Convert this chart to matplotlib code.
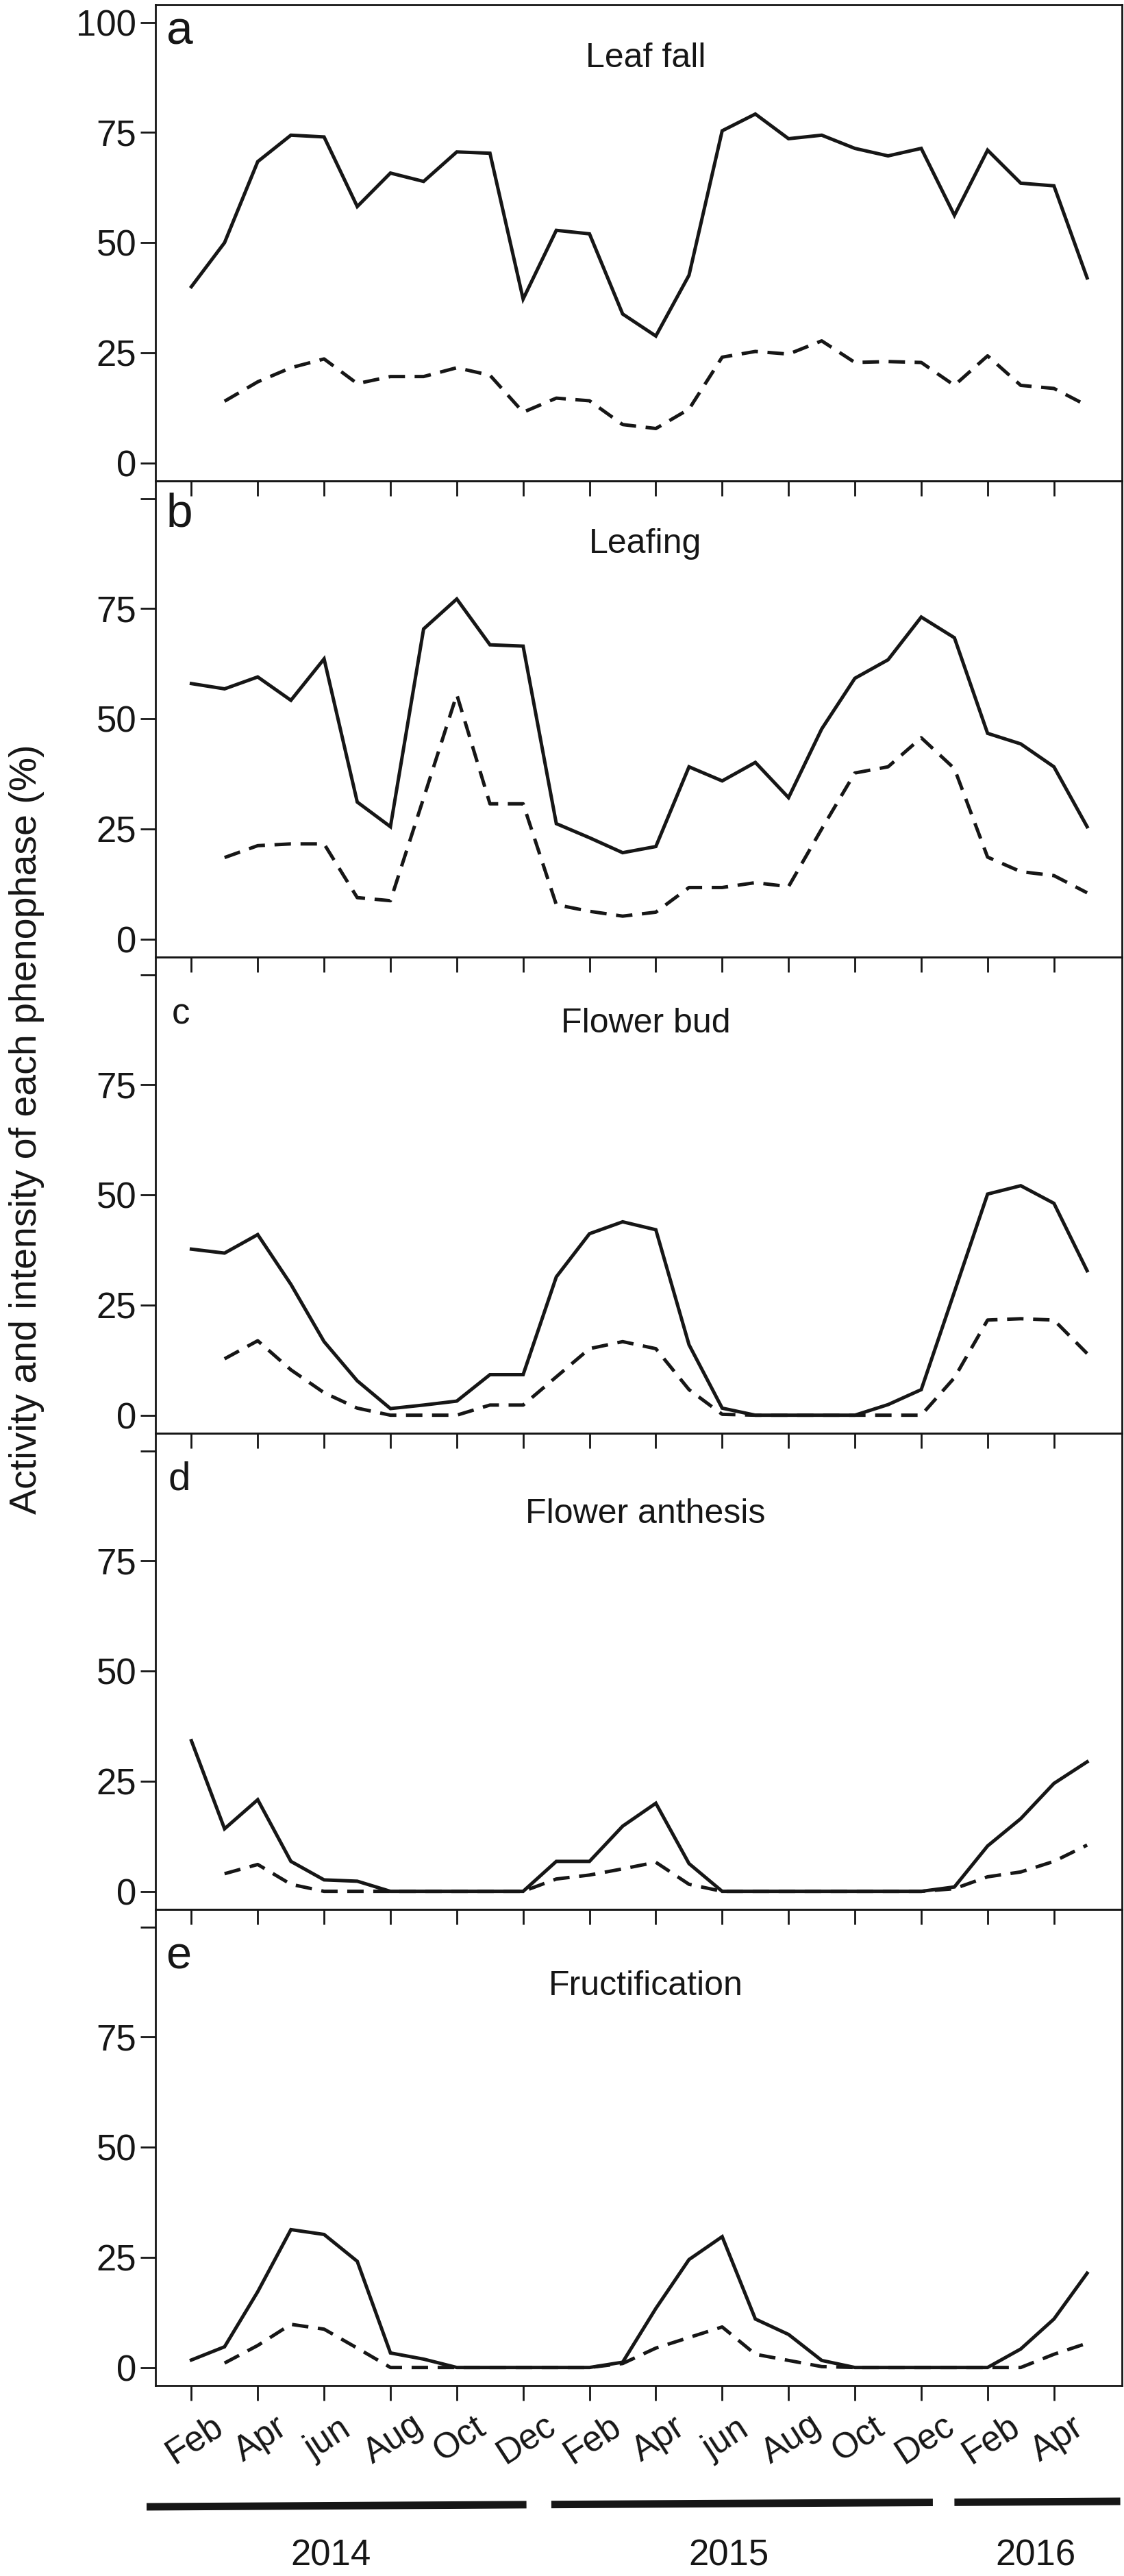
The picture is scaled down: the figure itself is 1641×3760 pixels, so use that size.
import numpy as np
import matplotlib
matplotlib.use("Agg")
import matplotlib.pyplot as plt
from matplotlib.transforms import ScaledTranslation, blended_transform_factory

plt.rcParams['font.family'] = ['Liberation Sans', 'DejaVu Sans']

# --- DATA (monthly, Feb 2014 .. May 2016; dashed series starts Mar 2014) ---
months_solid = np.arange(0, 28)      # 0 = Feb 2014
months_dashed = np.arange(1, 28)     # 1 = Mar 2014

tick_months = np.arange(0, 27, 2)
tick_labels = ["Feb", "Apr", "jun", "Aug", "Oct", "Dec",
               "Feb", "Apr", "jun", "Aug", "Oct", "Dec",
               "Feb", "Apr"]

panel_letters = ["a", "b", "c", "d", "e"]
panel_titles = ["Leaf fall", "Leafing", "Flower bud", "Flower anthesis", "Fructification"]

leaf_fall_activity = [40.0, 50.0, 68.4, 74.4, 74.0, 58.2, 65.8, 63.9, 70.6, 70.3, 37.2,
                      52.8, 52.0, 33.8, 28.8, 42.6, 75.4, 79.2, 73.6, 74.4, 71.4, 69.7, 71.4,
                      56.2, 71.0, 63.5, 62.9, 42.0]
leaf_fall_intensity = [14.0, 18.4, 21.6, 23.6, 18.0, 19.6, 19.6, 21.6, 19.9, 11.5,
                       14.7, 14.1, 8.7, 7.8, 12.2, 24.0, 25.3, 24.7, 27.7, 22.8, 23.0, 22.8,
                       17.6, 24.3, 17.6, 16.9, 13.0]

leafing_activity = [58.0, 56.8, 59.5, 54.2, 63.6, 31.1, 25.5, 70.4, 77.2, 66.8, 66.5,
                    26.2, 23.0, 19.6, 21.0, 39.1, 35.9, 40.1, 32.1, 47.7, 59.2, 63.4, 73.1,
                    68.4, 46.7, 44.3, 39.1, 25.5]
leafing_intensity = [18.5, 21.2, 21.6, 21.6, 9.4, 8.7, 32.0, 55.5, 30.7, 30.7,
                     7.8, 6.3, 5.2, 6.1, 11.7, 11.7, 12.8, 11.9, 25.0, 37.7, 39.1, 45.7,
                     38.7, 18.6, 15.3, 14.4, 10.5]

bud_activity = [37.7, 36.8, 41.0, 29.7, 16.7, 7.8, 1.5, 2.3, 3.2, 9.2, 9.2,
                31.4, 41.2, 43.9, 42.1, 16.0, 1.6, 0, 0, 0, 0, 2.4, 5.8,
                28.0, 50.2, 52.1, 48.1, 32.8]
bud_intensity = [12.8, 16.9, 10.3, 5.1, 1.6, 0, 0, 0, 2.3, 2.3,
                 8.7, 15.1, 16.7, 15.1, 5.8, 0.2, 0, 0, 0, 0, 0, 0,
                 8.5, 21.6, 21.9, 21.6, 14.0]

anthesis_activity = [34.2, 14.2, 20.8, 6.8, 2.6, 2.3, 0, 0, 0, 0, 0,
                     6.8, 6.8, 14.8, 20.0, 6.3, 0, 0, 0, 0, 0, 0, 0,
                     1.0, 10.3, 16.5, 24.5, 29.4]
anthesis_intensity = [4.0, 6.1, 1.6, 0, 0, 0, 0, 0, 0, 0,
                      2.8, 3.7, 5.1, 6.6, 1.6, 0, 0, 0, 0, 0, 0, 0,
                      0.6, 3.3, 4.4, 6.8, 10.5]

fruit_activity = [1.7, 4.7, 17.2, 31.3, 30.2, 24.1, 3.3, 1.9, 0, 0, 0,
                  0, 0, 1.2, 13.4, 24.5, 29.7, 11.0, 7.5, 1.6, 0, 0, 0,
                  0, 0, 4.2, 11.0, 21.4]
fruit_intensity = [1.0, 5.0, 9.8, 8.7, 4.4, 0, 0, 0, 0, 0,
                   0, 0, 0.9, 4.4, 6.8, 9.2, 3.0, 1.6, 0.2, 0, 0, 0,
                   0, 0, 0, 3.0, 5.5]

activity = [leaf_fall_activity, leafing_activity, bud_activity, anthesis_activity, fruit_activity]
intensity = [leaf_fall_intensity, leafing_intensity, bud_intensity, anthesis_intensity, fruit_intensity]

years = ["2014", "2015", "2016"]
year_spans = [(-1.35, 10.1), (10.85, 22.35), (23.0, 28.0)]
year_label_x = [4.2, 16.2, 25.45]

# --- LAYOUT ---
W, H = 1641, 3760
fig = plt.figure(figsize=(W / 100, H / 100), dpi=100)

left_px, right_px = 227, 1638
top_px, panel_h = 7, 695

letter_sizes = [50, 50, 38, 42, 48]
letter_pos = [(0.011, 0.917), (0.011, 0.905), (0.017, 0.859), (0.013, 0.881), (0.011, 0.875)]
title_y = [0.869, 0.849, 0.842, 0.812, 0.820]

ink = "#161616"
axes = []
for i in range(5):
    bottom = 1 - (top_px + panel_h * (i + 1)) / H
    ax = fig.add_axes([left_px / W, bottom, (right_px - left_px) / W, panel_h / H])
    ax.patch.set_visible(False)
    axes.append(ax)

    ax.plot(months_dashed, intensity[i], color=ink, lw=3.6, dashes=(4.8, 2.8))
    ax.plot(months_solid, activity[i], color=ink, lw=3.6, solid_joinstyle="miter")

    ax.set_xlim(-1.082, 28.05)
    ax.set_ylim(-4.1, 104.0)
    ax.set_yticks([0, 25, 50, 75, 100])
    if i == 0:
        ax.set_yticklabels(["0", "25", "50", "75", "100"])
    else:
        ax.set_yticklabels(["0", "25", "50", "75", ""])
    ax.set_xticks(tick_months)

    for sp in ax.spines.values():
        sp.set_linewidth(2.0)
        sp.set_color(ink)
    ax.tick_params(axis="both", direction="out", length=15.8, width=2.0,
                   color=ink, labelsize=38, labelcolor=ink)
    ax.tick_params(axis="y", pad=4.3)

    ax.text(letter_pos[i][0], letter_pos[i][1], panel_letters[i], transform=ax.transAxes,
            fontsize=letter_sizes[i], ha="left", va="baseline", color=ink)
    ax.text(0.507, title_y[i], panel_titles[i], transform=ax.transAxes,
            fontsize=36, ha="center", va="baseline", color=ink)

    if i < 4:
        ax.set_xticklabels([])

ax = axes[-1]
ax.tick_params(axis="x", pad=41)
ax.set_xticklabels(tick_labels, rotation=33, ha="center", va="center",
                   rotation_mode="anchor", fontsize=37)
shift = ScaledTranslation(0.05, 0, fig.dpi_scale_trans)
for lab in ax.get_xticklabels():
    lab.set_transform(lab.get_transform() + shift)

# year bars below the month axis (slightly slanted, as in the scan)
trans = blended_transform_factory(ax.transData, ax.transAxes)
def bar_y(xd):
    xpx = 279.4 + 48.43 * xd
    ypx = 3659 - (xpx - 214) * 8 / 1421
    return (3482 - ypx) / panel_h

for (x0, x1), yr, xl in zip(year_spans, years, year_label_x):
    ax.plot([x0, x1], [bar_y(x0), bar_y(x1)], transform=trans, clip_on=False,
            color=ink, lw=7.9, solid_capstyle="butt")
    ax.text(xl, -0.357, yr, transform=trans, ha="center", va="center",
            fontsize=38, color=ink)

fig.text(0.0238, 0.5617, "Activity and intensity of each phenophase (%)", rotation=90,
         ha="center", va="center", fontsize=40, color=ink)

fig.savefig("out.png", dpi=100)
